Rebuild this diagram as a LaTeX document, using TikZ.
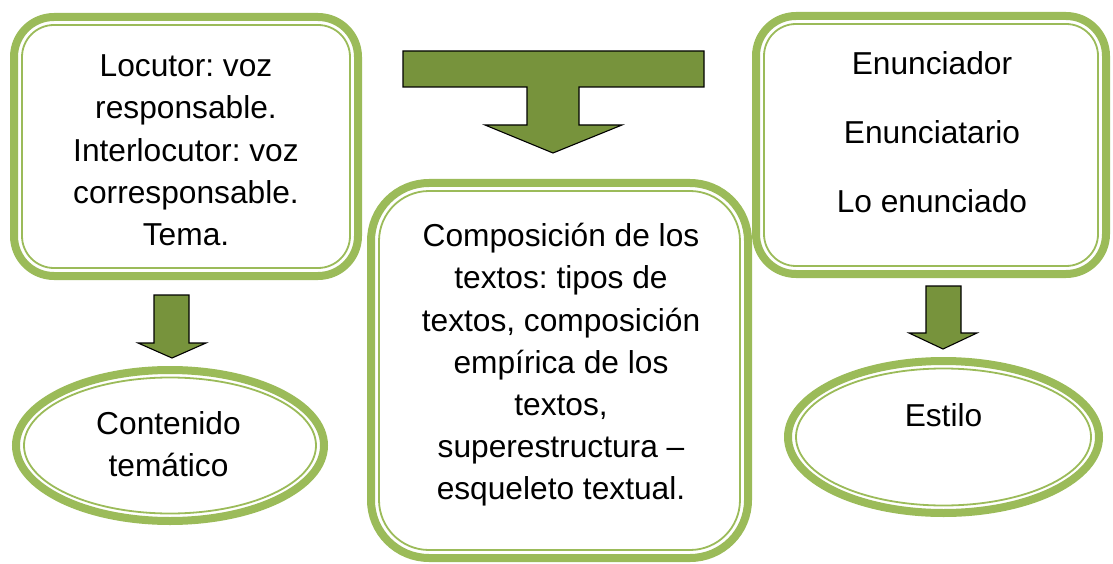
\documentclass[tikz,border=0pt]{standalone}
\usepackage{fontspec}
\setmainfont{Liberation Sans}
\usetikzlibrary{shapes.geometric}
\definecolor{rimgreen}{HTML}{9BBB59}
\definecolor{arrowgreen}{HTML}{77933C}
\frenchspacing
\tikzset{
  rim/.style={draw=rimgreen, line width=8pt, outer sep=0pt},
  rimbox/.style={rim, rectangle, rounded corners=40pt},
  rimoval/.style={rim, ellipse, inner sep=0pt},
  inrim/.style={draw=rimgreen, line width=1.8pt},
  txt/.style={align=center, inner sep=0pt, font=\fontsize{31.7}{42.2}\selectfont},
  blockarrow/.style={draw=black, line width=1.1pt, fill=arrowgreen, line join=miter}
}
\begin{document}
\begin{tikzpicture}[x=1pt, y=-1pt]
  \useasboundingbox (0,0) rectangle (1113,564);
  \node[rimbox, minimum width=344pt, minimum height=259pt] (loc) at (186,146.5) {};
  \node[rimbox, rounded corners=58pt, minimum width=377pt, minimum height=375pt] (comp) at (559.5,370.5) {};
  \node[rimbox, minimum width=350pt, minimum height=258pt] (enun) at (931,145) {};
  \node[rimoval, minimum width=308pt, minimum height=151pt] (cont) at (170,445.5) {};
  \node[rimoval, minimum width=311pt, minimum height=152pt] (est) at (943.5,437) {};
  \begin{scope}[inrim]
    \draw[rounded corners=32pt] ([shift={(8,8)}]loc.north west) rectangle ([shift={(-8,-8)}]loc.south east);
    \draw[rounded corners=50pt] ([shift={(8,8)}]comp.north west) rectangle ([shift={(-8,-8)}]comp.south east);
    \draw[rounded corners=32pt] ([shift={(8,8)}]enun.north west) rectangle ([shift={(-8,-8)}]enun.south east);
    \draw (cont.center) ellipse [x radius=146pt, y radius=68pt];
    \draw (est.center) ellipse [x radius=147.5pt, y radius=68.5pt];
  \end{scope}
  \node[txt] (loctxt) at (186,150.4) {Locutor: voz\\responsable.\\Interlocutor: voz\\corresponsable.\\Tema.};
  \node[txt] (comptxt) at (561,365) {Composición de los\\textos: tipos de\\textos, composición\\empírica de los\\textos,\\superestructura –\\esqueleto textual.};
  \node[txt] (enuntxt) at (932,132.3) {Enunciador\\[26.5pt]Enunciatario\\[26.5pt]Lo enunciado};
  \node[txt] (conttxt) at (168.5,444) {Contenido\\temático};
  \node[txt] (esttxt) at (943.5,415.3) {Estilo};
  \draw[blockarrow] (403,51) -- (704,51) -- (704,87) -- (579,87) -- (579,125) -- (622,125)
    -- (553,153) -- (485,125) -- (527,125) -- (527,87) -- (403,87) -- cycle;
  \draw[blockarrow] (154,295) -- (189,295) -- (189,343) -- (206,343) -- (172,358)
    -- (138,343) -- (154,343) -- cycle;
  \draw[blockarrow] (926,286) -- (961,286) -- (961,333) -- (977,333) -- (943,349)
    -- (909,333) -- (926,333) -- cycle;
\end{tikzpicture}
\end{document}
